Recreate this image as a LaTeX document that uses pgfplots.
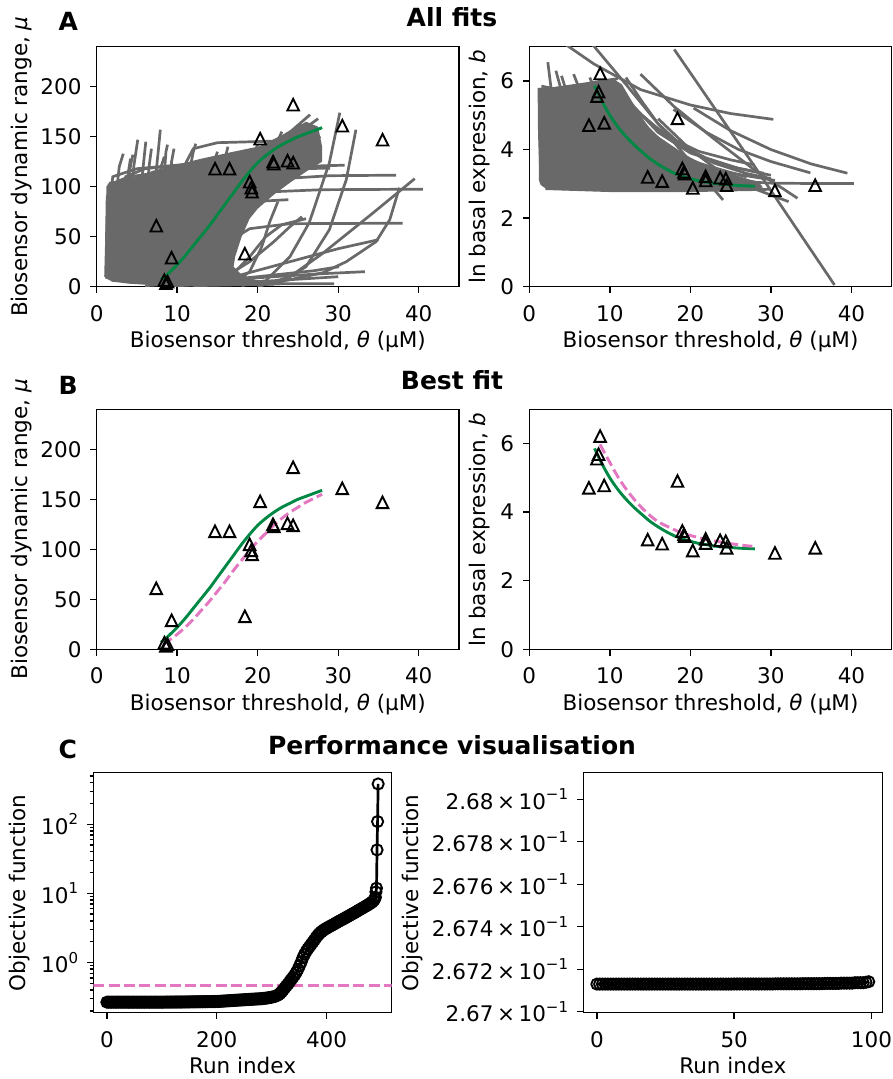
\documentclass[border=0pt]{standalone}
\usepackage{fontspec}
\setmainfont{DejaVu Sans}
\usepackage{pgfplots}
\pgfplotsset{compat=1.18}
\definecolor{gl}{RGB}{105,105,105}
\definecolor{fitgreen}{RGB}{0,136,68}
\definecolor{tpink}{RGB}{227,119,194}
\pgfdeclareplotmark{mtri}{%
  \pgfpathmoveto{\pgfqpoint{0pt}{\pgfplotmarksize}}%
  \pgfpathlineto{\pgfqpoint{-\pgfplotmarksize}{-\pgfplotmarksize}}%
  \pgfpathlineto{\pgfqpoint{\pgfplotmarksize}{-\pgfplotmarksize}}%
  \pgfpathclose
  \pgfusepathqstroke}
\newcommand{\fs}{\fontsize{21.5}{24}\selectfont}
\newcommand{\sups}[1]{\raisebox{0.45em}{\fontsize{15}{15}\selectfont #1}}
\pgfplotsset{
  base/.style={
    scale only axis, height=240pt,
    axis line style={line width=1.44pt},
    tick align=outside, tick pos=left,
    major tick length=6.3pt, minor tick length=3.6pt,
    every tick/.style={black, line width=1.44pt},
    tick label style={font=\fs, inner sep=0pt},
    xticklabel style={anchor=north},
    yticklabel style={anchor=east},
    xticklabel shift=12pt, yticklabel shift=8.7pt,
    every axis x label/.style={at={(axis description cs:0.5,-0.1846)}, anchor=north, font=\fs, inner sep=0pt},
    every axis y label/.style={rotate=90, anchor=south, font=\fs, inner sep=0pt},
    /pgf/number format/assume math mode=true,
    scaled ticks=false,
  },
  topl/.style={base, width=362.3pt, xmin=0, xmax=45, ymin=0, ymax=240,
    xtick={0,10,20,30,40}, ytick={0,50,100,150,200},
    xlabel={Biosensor threshold, \textit{θ} (μM)},
    ylabel={Biosensor dynamic range, \textit{μ}},
    ylabel style={at={(axis description cs:-0.1786,0.5)}}},
  topr/.style={base, width=362.4pt, xmin=0, xmax=45, ymin=0, ymax=7,
    xtick={0,10,20,30,40}, ytick={0,2,4,6},
    xlabel={Biosensor threshold, \textit{θ} (μM)},
    ylabel={ln basal expression, \textit{b}},
    ylabel style={at={(axis description cs:-0.1084,0.5)}}},
  tri/.style={black, only marks, mark=mtri, mark size=5.8pt, mark options={solid, line width=1.9pt}},
  gr/.style={gl, line width=2.7pt, no marks},
  gfit/.style={fitgreen, line width=2.9pt, no marks, smooth},
  pfit/.style={tpink, line width=2.9pt, no marks, smooth, dash pattern=on 10pt off 4.3pt},
  circ/.style={black, line width=2.7pt, mark=o, mark size=5.6pt, mark options={solid, line width=1.9pt}},
}
\begin{document}
\begin{tikzpicture}
\path[use as bounding box] (0pt,0pt) rectangle (892pt,1079pt);
\node[anchor=base west, font=\fontsize{25}{25}\selectfont\bfseries, inner sep=0pt] at (58.5pt,1048.3pt) {A};
\node[anchor=base, font=\fontsize{25}{25}\selectfont\bfseries, inner sep=0pt] at (452pt,1052.3pt) {All fits};
\node[anchor=base west, font=\fontsize{25}{25}\selectfont\bfseries, inner sep=0pt] at (58.5pt,684pt) {B};
\node[anchor=base, font=\fontsize{25}{25}\selectfont\bfseries, inner sep=0pt] at (452pt,689pt) {Best fit};
\node[anchor=base west, font=\fontsize{25}{25}\selectfont\bfseries, inner sep=0pt] at (58.5pt,320.7pt) {C};
\node[anchor=base, font=\fontsize{25}{25}\selectfont\bfseries, inner sep=0pt] at (452pt,324pt) {Performance visualisation};

% ---------------- A left ----------------
\begin{axis}[topl, at={(96.7pt,792.3pt)}, anchor=south west]
\addplot[fill=gl, draw=none] coordinates {(1.2,8) (1.2,100) (1.6,105) (4.5,108) (7,116) (10,122) (13,128) (17,135) (20,140) (22,145) (24,155) (26,165) (27.5,160) (28,140) (28,125) (26,115) (24,104) (22,92) (20,78) (19,68) (18,50) (17.2,30) (17,20) (18,12) (20,6) (22,3) (22,1) (13,0.5) (7,1.5) (4,3) (2,5)} --cycle;
\addplot[gr] coordinates {(1.2,8) (1.25,50) (1.4,92) (2,100) (6,104) (12,110)};
\addplot[gr] coordinates {(1.3,15) (1.5,70) (1.8,100) (3,106) (8,112) (16,118)};
\addplot[gr] coordinates {(1.5,25) (1.8,80) (2.2,104) (4,110) (10,116) (20,124)};
\addplot[gr] coordinates {(1.2,30) (1.4,75) (1.7,98) (5,103) (14,108) (23.8,112)};
\addplot[gr] coordinates {(1.6,12) (2.0,60) (2.6,100) (5,108) (12,115) (22,125)};
\addplot[gr] coordinates {(2.0,5) (2.6,50) (3.2,100) (6,112) (14,120) (25,135)};
\addplot[gr] coordinates {(2.5,20) (3.0,70) (3.6,110) (6,118) (12,123) (18,128)};
\addplot[gr] coordinates {(3.0,10) (3.5,60) (4.0,112) (4.3,125) (4.5,132)};
\addplot[gr] coordinates {(3.6,15) (4.2,80) (4.6,120) (5.1,147)};
\addplot[gr] coordinates {(4.8,20) (5.4,90) (5.9,130) (6.1,145)};
\addplot[gr] coordinates {(5.5,10) (6.0,70) (6.5,120) (6.8,138)};
\addplot[gr] coordinates {(6.5,25) (7.2,100) (7.7,140) (7.9,157)};
\addplot[gr] coordinates {(7.5,15) (8.2,90) (8.6,135) (8.8,142)};
\addplot[gr] coordinates {(8.5,20) (9.0,80) (9.3,125) (9.6,138)};
\addplot[gr] coordinates {(2.2,35) (2.4,90) (2.8,120) (3.3,133)};
\addplot[gr] coordinates {(2.8,10) (3.4,80) (4.0,118) (4.2,128)};
\addplot[gr] coordinates {(1.4,40) (1.6,85) (2.0,110) (5,118) (15,125) (27,140)};
\addplot[gr] coordinates {(4.0,5) (5.0,50) (6.0,105) (9,118) (16,126) (26,142)};
\addplot[gr] coordinates {(6,3) (7.5,40) (9,95) (12,115) (18,125) (27,148)};
\addplot[gr] coordinates {(7,5) (9,40) (11,90) (14,112) (20,128) (26.5,160)};
\addplot[gr] coordinates {(9,5) (11,35) (13,80) (16,110) (21,130) (27.5,168)};
\addplot[gr] coordinates {(10,3) (12,25) (14,65) (17,105) (22,138) (26,160)};
\addplot[gr] coordinates {(9.5,10) (10,60) (10.5,115) (12,138) (15,144) (24,146)};
\addplot[gr] coordinates {(1.1,10) (1.2,40) (1.3,90) (2,98) (10,100) (19,102)};
\addplot[gr] coordinates {(10.5,15) (11,70) (11.5,115) (12,135) (12.3,143)};
\addplot[gr] coordinates {(6,4) (6.8,30) (7.5,90) (8,120) (8.4,130)};
\addplot[gr] coordinates {(13.5,40) (14,90) (14.6,125) (15,135)};
\addplot[gr] coordinates {(15,60) (15.6,110) (16,130) (16.3,140)};
\addplot[gr] coordinates {(18,80) (19,115) (19.6,135) (20,142)};
\addplot[gr] coordinates {(21,95) (22,128) (22.6,148) (23,155)};
\addplot[gr] coordinates {(17,120) (20,138) (23,150) (25.5,162)};
\addplot[gr] coordinates {(19,125) (22,140) (24.5,158) (26.5,172)};
\addplot[gr] coordinates {(16,60) (19,100) (22,125) (25,140) (27.8,150)};
\addplot[gr] coordinates {(16,20) (18,60) (20,88) (22,95) (28,97) (40.5,97.5)};
\addplot[gr] coordinates {(16,30) (18,70) (20,95) (23,108) (29,111) (37.2,111.5)};
\addplot[gr] coordinates {(13,5) (15,25) (17,48) (19,58) (24,63) (38,63.5)};
\addplot[gr] coordinates {(11,8) (13,35) (15,70) (17,84) (23.8,87)};
\addplot[gr] coordinates {(14,40) (17,90) (20,112) (24,120) (30.8,121.5)};
\addplot[gr] coordinates {(15,50) (18,100) (21,115) (25,118) (29,118.5)};
\addplot[gr] coordinates {(18,1) (21,6) (24,30) (26.4,64) (28.9,124) (30.2,174)};
\addplot[gr] coordinates {(20,1) (23,5) (26,20) (28.9,57) (31,107) (32.2,157)};
\addplot[gr] coordinates {(20,1) (24,7) (28.1,14) (31,25) (34.7,45) (36.4,67) (37.6,99)};
\addplot[gr] coordinates {(20,0) (24,10) (28.1,33.5) (34.3,73.6) (39.5,108)};
\addplot[gr] coordinates {(12,3) (18,12) (24,25) (30,38) (35,47)};
\addplot[gr] coordinates {(8,2) (15,6) (22,10) (28,13) (33.3,15)};
\addplot[gr] coordinates {(6,1) (12,4) (20,10) (27,16) (30.1,20)};
\addplot[gr] coordinates {(9,0.5) (15,3) (22,6) (28,9) (30,10)};
\addplot[gr] coordinates {(12,1) (18,2) (24,3) (29.5,3)};
\addplot[gr] coordinates {(17,3) (19,15) (20.5,40) (21.5,65) (22.5,85)};
\addplot[gr] coordinates {(13,2) (16,10) (19,25) (22,45) (24,60) (25.5,70)};
\addplot[gr] coordinates {(16,5) (19,30) (21,50) (23,62) (26,68)};
\addplot[gfit] coordinates {(8,7) (9,14) (10,22) (11,31) (12,41) (13,51) (14,61) (15,72) (16,83) (17,94) (18,105) (19,115) (20,124) (21,131) (22,137) (23,142) (24,146) (25,150) (26,153) (27,156) (28,159)};
\addplot[tri] coordinates {(7.4,61) (8.4,6.5) (8.6,3.5) (8.8,5) (9.3,29) (14.7,118) (16.5,118) (18.4,33) (19.0,105) (19.2,99) (19.3,95) (20.3,148) (21.9,125) (22.0,123) (23.7,126) (24.4,124) (24.4,182) (30.5,161) (35.5,147)};
\end{axis}

% ---------------- A right ----------------
\begin{axis}[topr, at={(529.3pt,792.3pt)}, anchor=south west]
\addplot[fill=gl, draw=none] coordinates {(1.2,3.1) (1.2,5.8) (3,5.82) (6,5.9) (8,5.95) (10.5,6.05) (11.5,5.9) (12.5,5.5) (13.8,5.0) (15,4.6) (17,4.15) (19,3.85) (21,3.6) (23,3.45) (25,3.3) (27,3.15) (28.5,3.05) (29,2.9) (28,2.82) (20,2.8) (10,2.8) (4,2.82) (2,2.87) (1.4,2.97)} --cycle;
\addplot[gr] coordinates {(1.2,5.8) (1.25,4.5) (1.4,3.4) (2,3.05) (5,2.95) (12,2.9)};
\addplot[gr] coordinates {(2.3,6.55) (2.8,5.6) (3.5,4.5) (5,3.6) (9,3.05) (16,2.9)};
\addplot[gr] coordinates {(4,6.15) (5,5.4) (6.5,4.5) (9,3.7) (14,3.15) (22,2.92)};
\addplot[gr] coordinates {(5.5,6.2) (6.5,5.6) (8,4.9) (11,4.0) (15,3.4) (24,3.0)};
\addplot[gr] coordinates {(3.3,6.3) (4,5.7) (5,4.9) (7,3.9) (10,3.3) (18,2.95)};
\addplot[gr] coordinates {(7.5,6.1) (9,5.35) (11,4.6) (14,3.85) (18,3.35) (27,3.02)};
\addplot[gr] coordinates {(9,6.05) (11,5.1) (13,4.4) (16,3.75) (20,3.35) (28,3.05)};
\addplot[gr] coordinates {(10.5,6.05) (12,5.45) (14,4.8) (17,4.1) (21,3.6) (27,3.2)};
\addplot[gr] coordinates {(12,6.1) (14,5.4) (16,4.75) (19,4.1) (23,3.6) (27,3.3) (30,3.15)};
\addplot[gr] coordinates {(1.5,5.85) (3,5.78) (5,5.85) (7,5.92) (9,6.0) (11,6.07)};
\addplot[gr] coordinates {(2,2.86) (10,2.8) (20,2.8) (30,2.84)};
\addplot[gr] coordinates {(4.6,7.05) (8,6.5) (13.8,5.75) (20,5.3) (25,5.05) (30.3,4.88)};
\addplot[gr] coordinates {(18,6.92) (28,3.5) (37.9,0.05)};
\addplot[gr] coordinates {(7.9,7.05) (12,5.9) (16,4.75) (20,3.65) (24.05,2.53)};
\addplot[gr] coordinates {(13.8,6.2) (18,5.25) (23,4.3) (28,3.4) (33.3,2.58)};
\addplot[gr] coordinates {(20.4,5.21) (25,4.55) (30,4.0) (35,3.58) (39.5,3.31)};
\addplot[gr] coordinates {(17.9,5.17) (22,4.5) (26,4.0) (30,3.65) (34.9,3.32)};
\addplot[gr] coordinates {(16,4.9) (20,4.0) (24,3.3) (28,2.85) (32.2,2.48)};
\addplot[gr] coordinates {(12,5.5) (16,4.5) (20,3.9) (25,3.5) (29.1,3.31)};
\addplot[gr] coordinates {(14,5.0) (18,4.2) (22,3.75) (26,3.45) (30,3.25)};
\addplot[gr] coordinates {(24,3.1) (30,3.02) (35,3.01) (40.3,3.01)};
\addplot[gr] coordinates {(11,5.6) (15,4.5) (20,3.7) (24,3.35) (30.5,3.1)};
\addplot[gr] coordinates {(13,5.2) (17,4.4) (21,3.95) (25,3.7) (28,3.55)};
\addplot[gfit] coordinates {(8.1,5.86) (9,5.42) (10,5.0) (11,4.66) (12,4.38) (13,4.14) (14,3.93) (15,3.73) (16,3.57) (17,3.43) (18,3.31) (19,3.22) (20,3.15) (21,3.09) (22,3.05) (23,3.01) (24,2.99) (25,2.97) (26,2.95) (27,2.94) (28,2.93)};
\addplot[tri] coordinates {(7.4,4.71) (8.4,5.56) (8.6,5.69) (8.8,6.22) (9.3,4.78) (14.7,3.2) (16.5,3.08) (18.4,4.91) (19.0,3.45) (19.2,3.35) (19.3,3.3) (20.3,2.88) (21.9,3.22) (21.9,3.1) (23.7,3.18) (24.4,3.15) (24.5,2.96) (30.5,2.81) (35.5,2.96)};
\end{axis}

% ---------------- B left ----------------
\begin{axis}[topl, at={(96.7pt,429.7pt)}, anchor=south west]
\addplot[gfit] coordinates {(8,7) (9,14) (10,22) (11,31) (12,41) (13,51) (14,61) (15,72) (16,83) (17,94) (18,105) (19,115) (20,124) (21,131) (22,137) (23,142) (24,146) (25,150) (26,153) (27,156) (28,159)};
\addplot[pfit] coordinates {(8.3,5) (9,9) (10,15) (11,22) (12,30) (13,39) (14,48) (15,58) (16,68) (17,79) (18,89) (19,99) (20,108) (21,116) (22,124) (23,131) (24,137) (25,142) (26,147) (27,151) (28,155)};
\addplot[tri] coordinates {(7.4,61) (8.4,6.5) (8.6,3.5) (8.8,5) (9.3,29) (14.7,118) (16.5,118) (18.4,33) (19.0,105) (19.2,99) (19.3,95) (20.3,148) (21.9,125) (22.0,123) (23.7,126) (24.4,124) (24.4,182) (30.5,161) (35.5,147)};
\end{axis}

% ---------------- B right ----------------
\begin{axis}[topr, at={(529.3pt,429.7pt)}, anchor=south west]
\addplot[gfit] coordinates {(8.1,5.86) (9,5.42) (10,5.0) (11,4.66) (12,4.38) (13,4.14) (14,3.93) (15,3.73) (16,3.57) (17,3.43) (18,3.31) (19,3.22) (20,3.15) (21,3.09) (22,3.05) (23,3.01) (24,2.99) (25,2.97) (26,2.95) (27,2.94) (28,2.93)};
\addplot[pfit] coordinates {(8.8,5.98) (9,5.88) (10,5.45) (11,5.03) (12,4.68) (13,4.38) (14,4.12) (15,3.9) (16,3.72) (17,3.6) (18,3.49) (19,3.39) (20,3.32) (21,3.26) (22,3.2) (23,3.16) (24,3.12) (25,3.08) (26,3.05) (27,3.02) (28,3.0)};
\addplot[tri] coordinates {(7.4,4.71) (8.4,5.56) (8.6,5.69) (8.8,6.22) (9.3,4.78) (14.7,3.2) (16.5,3.08) (18.4,4.91) (19.0,3.45) (19.2,3.35) (19.3,3.3) (20.3,2.88) (21.9,3.22) (21.9,3.1) (23.7,3.18) (24.4,3.15) (24.5,2.96) (30.5,2.81) (35.5,2.96)};
\end{axis}

% ---------------- C left ----------------
\begin{axis}[base, at={(93.3pt,66.3pt)}, anchor=south west, width=298.4pt,
  xmin=-24.7, xmax=518.7, ymode=log, ymin=0.188, ymax=557,
  xtick={0,200,400}, ytick={1,10,100},
  yticklabels={10\sups{0},10\sups{1},10\sups{2}},
  minor ytick={0.2,0.3,0.4,0.5,0.6,0.7,0.8,0.9,2,3,4,5,6,7,8,9,20,30,40,50,60,70,80,90,200,300,400,500},
  xlabel={Run index}, ylabel={Objective function},
  ylabel style={at={(axis description cs:-0.2105,0.5)}}]
\addplot[tpink, line width=2.7pt, dash pattern=on 11pt off 4.3pt] coordinates {(-24.7,0.466) (518.7,0.466)};
\addplot[circ] coordinates {
(0,0.2671) (3,0.2671) (6,0.2671) (9,0.2671) (12,0.2671) (15,0.2671) (18,0.2671) (21,0.2671) (24,0.2671) (27,0.2671)
(30,0.2671) (33,0.2671) (36,0.2671) (39,0.2671) (42,0.2671) (45,0.2671) (48,0.2671) (51,0.2671) (54,0.2671) (57,0.2671)
(60,0.2671) (63,0.2671) (66,0.2671) (69,0.2671) (72,0.2671) (75,0.2671) (78,0.2671) (81,0.2671) (84,0.2671) (87,0.2671)
(90,0.2671) (93,0.2671) (96,0.2671) (99,0.2672) (102,0.2673) (105,0.2674) (108,0.2675) (111,0.2676) (114,0.2677) (117,0.2678)
(120,0.2679) (123,0.2680) (126,0.2681) (129,0.2682) (132,0.2683) (135,0.2685) (138,0.2687) (141,0.2689) (144,0.2691) (147,0.2693)
(150,0.2695) (153,0.2697) (156,0.2699) (159,0.2701) (162,0.2703) (165,0.2705) (168,0.2707) (171,0.2709) (174,0.2711) (177,0.2713)
(180,0.2715) (183,0.2717) (186,0.2719) (189,0.2721) (192,0.2723) (195,0.2725) (198,0.2727) (201,0.273) (204,0.274) (207,0.275)
(210,0.276) (213,0.277) (216,0.278) (219,0.279) (222,0.280) (225,0.281) (228,0.282) (231,0.283) (234,0.284) (237,0.285)
(240,0.286) (243,0.287) (246,0.288) (249,0.289) (252,0.290) (255,0.291) (258,0.292) (261,0.293) (264,0.294) (267,0.295)
(270,0.296) (273,0.297) (276,0.298) (279,0.299) (282,0.300) (285,0.302) (288,0.304) (291,0.306) (294,0.309) (297,0.312)
(300,0.315) (303,0.319) (306,0.324) (309,0.33) (312,0.34) (315,0.355) (318,0.375) (321,0.40) (324,0.43) (327,0.46)
(330,0.49) (333,0.53) (336,0.57) (339,0.61) (342,0.66) (345,0.72) (348,0.80) (351,0.90) (354,1.02) (357,1.18)
(360,1.32) (363,1.45) (366,1.58) (369,1.70) (372,1.83) (375,1.97) (378,2.12) (381,2.30) (384,2.47) (387,2.62)
(390,2.76) (393,2.88) (396,3.0) (399,3.1) (402,3.2) (405,3.3) (408,3.4) (411,3.5) (414,3.6) (417,3.72)
(420,3.84) (423,3.96) (426,4.08) (429,4.2) (432,4.33) (435,4.46) (438,4.6) (441,4.74) (444,4.9) (447,5.05)
(450,5.2) (453,5.37) (456,5.55) (459,5.73) (462,5.92) (465,6.1) (468,6.3) (471,6.5) (474,6.72) (477,6.95)
(480,7.2) (483,7.5) (486,7.9) (488,8.4) (489,8.8) (490,10.5) (491,11.9) (492,42.6) (493,109.5) (494,383)};
\end{axis}

% ---------------- C right ----------------
\begin{axis}[base, at={(583.3pt,66.3pt)}, anchor=south west, width=299pt,
  xmin=-4.95, xmax=103.95, ymin=0.2669953, ymax=0.2681252,
  xtick={0,50,100}, ytick={0.267,0.2672,0.2674,0.2676,0.2678,0.268},
  yticklabels={2.67\,×\,10\sups{−1},2.672\,×\,10\sups{−1},2.674\,×\,10\sups{−1},2.676\,×\,10\sups{−1},2.678\,×\,10\sups{−1},2.68\,×\,10\sups{−1}},
  xlabel={Run index}, ylabel={Objective function},
  ylabel style={at={(axis description cs:-0.536,0.5)}}]
\addplot[circ] coordinates {
(0,0.26713) (1,0.26713) (2,0.26713) (3,0.26713) (4,0.26713) (5,0.26713) (6,0.26713) (7,0.26713) (8,0.26713) (9,0.26713)
(10,0.26713) (11,0.26713) (12,0.26713) (13,0.26713) (14,0.26713) (15,0.26713) (16,0.26713) (17,0.26713) (18,0.26713) (19,0.26713)
(20,0.26713) (21,0.26713) (22,0.26713) (23,0.26713) (24,0.26713) (25,0.26713) (26,0.26713) (27,0.26713) (28,0.26713) (29,0.26713)
(30,0.26713) (31,0.26713) (32,0.26713) (33,0.26713) (34,0.26713) (35,0.26713) (36,0.26713) (37,0.26713) (38,0.26713) (39,0.26713)
(40,0.26713) (41,0.26713) (42,0.26713) (43,0.26713) (44,0.26713) (45,0.26713) (46,0.26713) (47,0.26713) (48,0.26713) (49,0.26713)
(50,0.2671305) (51,0.2671305) (52,0.2671305) (53,0.2671305) (54,0.2671305) (55,0.2671305) (56,0.2671305) (57,0.2671305) (58,0.2671305) (59,0.2671305)
(60,0.2671305) (61,0.2671305) (62,0.2671305) (63,0.2671305) (64,0.2671305) (65,0.2671312) (66,0.2671312) (67,0.2671312) (68,0.2671312) (69,0.2671312)
(70,0.2671312) (71,0.2671312) (72,0.2671312) (73,0.2671312) (74,0.2671312) (75,0.267132) (76,0.267132) (77,0.267132) (78,0.267132) (79,0.267132)
(80,0.267132) (81,0.267132) (82,0.267132) (83,0.267133) (84,0.267133) (85,0.267133) (86,0.267133) (87,0.267133) (88,0.267133) (89,0.2671345)
(90,0.2671345) (91,0.2671345) (92,0.2671345) (93,0.2671345) (94,0.2671365) (95,0.2671365) (96,0.2671365) (97,0.2671365) (98,0.2671385) (99,0.2671412)};
\end{axis}
\end{tikzpicture}
\end{document}
